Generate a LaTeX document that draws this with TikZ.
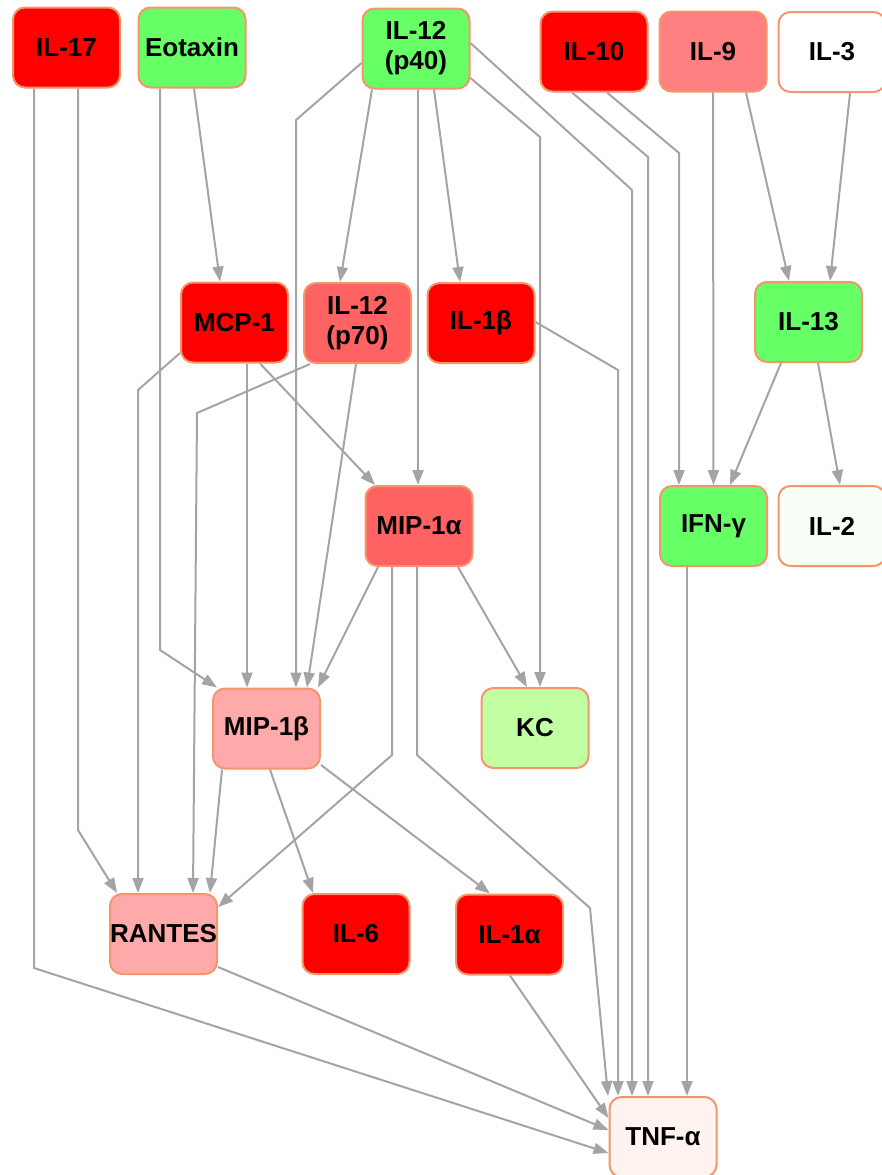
\documentclass[tikz,border=0pt]{standalone}
\usepackage{fontspec}
\setmainfont{Liberation Sans}
\usepackage{tikz}
\usetikzlibrary{arrows.meta}

\definecolor{upred}{HTML}{FF0000}
\definecolor{downgreen}{HTML}{66FF66}
\definecolor{lightgreen}{HTML}{C2FFA2}
\definecolor{salmon}{HTML}{FF8080}
\definecolor{midred}{HTML}{FF6262}
\definecolor{pink}{HTML}{FFAAAA}
\definecolor{paleg}{HTML}{F8FFF6}
\definecolor{palep}{HTML}{FFF3F0}
\definecolor{rim}{HTML}{F5956C}
\definecolor{wire}{HTML}{A4A4A4}

\begin{document}
\begin{tikzpicture}[x=1pt, y=-1pt,
    box/.style={draw=rim, line width=2pt, rounded corners=12pt, minimum width=107pt,
      minimum height=80pt, inner sep=0pt, align=center,
      font=\fontsize{26}{30}\selectfont\bfseries},
    edge/.style={draw=wire, line width=2pt, -{Triangle[length=15pt,width=11pt]}}]

  \useasboundingbox (0,0) rectangle (882,1175);

  % Top row
  \node[box, fill=upred] (il17) at (66.5,47.5) {IL-17};
  \node[box, fill=downgreen] (eotaxin) at (192,47.5) {Eotaxin};
  \node[box, fill=downgreen] (il12p40) at (416,48.5) {IL-12\\(p40)};
  \node[box, fill=upred] (il10) at (594,51.5) {IL-10};
  \node[box, fill=salmon] (il9) at (713,51.5) {IL-9};
  \node[box, fill=white] (il3) at (832,52) {IL-3};

  % Second row
  \node[box, fill=upred] (mcp1) at (234.5,322.5) {MCP-1};
  \node[box, fill=midred] (il12p70) at (357.5,323) {IL-12\\(p70)};
  \node[box, fill=upred] (il1b) at (481,323) {IL-1β};
  \node[box, fill=downgreen] (il13) at (808.5,322) {IL-13};

  % Third row
  \node[box, fill=midred] (mip1a) at (419,526) {MIP-1α};
  \node[box, fill=downgreen] (ifng) at (713.5,526) {IFN-γ};
  \node[box, fill=paleg] (il2) at (832,526) {IL-2};

  % Fourth row
  \node[box, fill=pink] (mip1b) at (266.5,728.5) {MIP-1β};
  \node[box, fill=lightgreen] (kc) at (535,728) {KC};

  % Fifth row
  \node[box, fill=pink] (rantes) at (163.5,934) {RANTES};
  \node[box, fill=upred] (il6) at (356,934) {IL-6};
  \node[box, fill=upred] (il1a) at (509.5,934.5) {IL-1α};

  % Bottom
  \node[box, fill=palep] (tnfa) at (663,1137) {TNF-α};

  % Edges from the top row
  \draw[edge] ([xshift=11.5pt]il17.south) -- (78,830) -- ([xshift=-46.5pt]rantes.north);
  \draw[edge] ([xshift=-32.5pt]il17.south) -- (34,968) -- ([yshift=-16pt]tnfa.west);
  \draw[edge] ([xshift=2pt]eotaxin.south) -- ([xshift=-14.5pt]mcp1.north);
  \draw[edge] ([xshift=-32pt]eotaxin.south) -- (160,650) -- ([xshift=-49.5pt]mip1b.north);
  \draw[edge] ([yshift=-14.5pt]il12p40.west) -- (296,120) -- ([xshift=29.5pt]mip1b.north);
  \draw[edge] ([xshift=-44pt]il12p40.south) -- ([xshift=-17.5pt]il12p70.north);
  \draw[edge] ([xshift=2pt]il12p40.south) -- ([xshift=-1pt]mip1a.north);
  \draw[edge] ([xshift=18pt]il12p40.south) -- ([xshift=-21pt]il1b.north);
  \draw[edge] ([yshift=-29.5pt]il12p40.east) -- (540,137) -- ([xshift=5pt]kc.north);
  \draw[edge] ([yshift=5.5pt]il12p40.east) -- (632,190) -- ([xshift=-31pt]tnfa.north);
  \draw[edge] ([xshift=-22pt]il10.south) -- (648,157) -- ([xshift=-15pt]tnfa.north);
  \draw[edge] ([xshift=13pt]il10.south) -- (679,153) -- ([xshift=-34.5pt]ifng.north);
  \draw[edge] (il9.south) -- (ifng.north);
  \draw[edge] ([xshift=33pt]il9.south) -- ([xshift=-19.5pt]il13.north);
  \draw[edge] ([xshift=18pt]il3.south) -- ([xshift=21.5pt]il13.north);

  % Edges from the second row
  \draw[edge] ([xshift=-27.5pt]il13.south) -- ([xshift=16.5pt]ifng.north);
  \draw[edge] ([xshift=9.5pt]il13.south) -- ([xshift=8pt]il2.north);
  \draw[edge] ([yshift=-30.5pt]mcp1.west) -- (138,390) -- ([xshift=-25.5pt]rantes.north);
  \draw[edge] ([xshift=12.5pt]mcp1.south) -- ([xshift=-19.5pt]mip1b.north);
  \draw[edge] ([xshift=25.5pt]mcp1.south) -- ([xshift=-44pt]mip1a.north);
  \draw[edge] ([xshift=-47.5pt]il12p70.south) -- (197,413) -- ([xshift=29.5pt]rantes.north);
  \draw[edge] ([xshift=-1.5pt]il12p70.south) -- ([xshift=40.5pt]mip1b.north);
  \draw[edge] ([yshift=1pt]il1b.east) -- (618,370) -- ([xshift=-45pt]tnfa.north);

  % Edges from the third row
  \draw[edge] ([xshift=-41pt]mip1a.south) -- ([xshift=51.5pt]mip1b.north);
  \draw[edge] ([xshift=39pt]mip1a.south) -- ([xshift=-8pt]kc.north);
  \draw[edge] ([xshift=-27pt]mip1a.south) -- (392,755) -- ([yshift=27pt]rantes.east);
  \draw[edge] ([xshift=-2pt]mip1a.south) -- (417,755) -- (590,908) -- ([xshift=-55pt]tnfa.north);
  \draw[edge] ([xshift=-26.5pt]ifng.south) -- ([xshift=24pt]tnfa.north);

  % Edges from the lower rows
  \draw[edge] ([xshift=-44.5pt]mip1b.south) -- ([xshift=46.5pt]rantes.north);
  \draw[edge] ([xshift=3.5pt]mip1b.south) -- ([xshift=-43pt]il6.north);
  \draw[edge] ([yshift=-36.5pt]mip1b.east) -- ([xshift=-19.5pt]il1a.north);
  \draw[edge] ([xshift=0.5pt]il1a.south) -- ([yshift=19pt]tnfa.west);
  \draw[edge] ([yshift=-33pt]rantes.east) -- ([yshift=7pt]tnfa.west);

\end{tikzpicture}
\end{document}
